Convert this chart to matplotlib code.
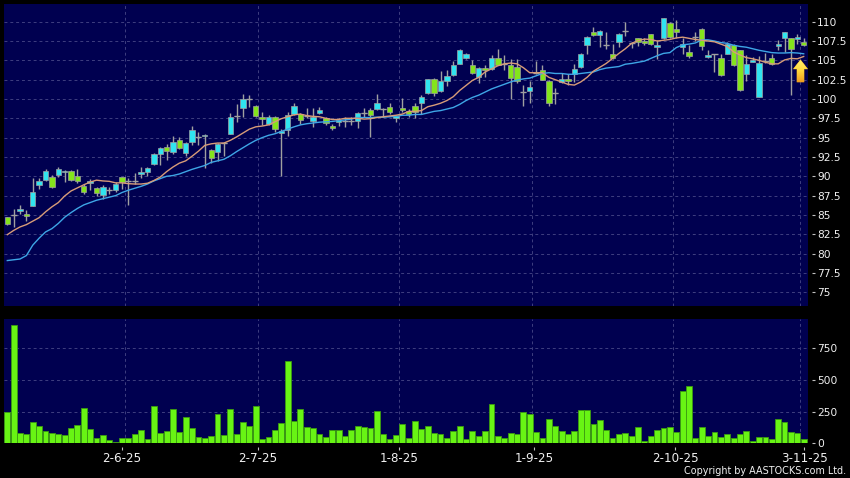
import numpy as np
import matplotlib
matplotlib.use("Agg")
import matplotlib.pyplot as plt
from matplotlib.colors import LinearSegmentedColormap

# candles
opens = [84.71, 84.97, 85.45, 85.10, 86.19, 88.84, 89.49, 89.89, 90.19, 90.50,
         90.71, 90.02, 88.75, 89.15, 88.45, 87.62, 88.23, 88.28, 89.89, 89.41,
         89.45, 90.32, 90.58, 91.58, 92.93, 93.80, 93.10, 94.71, 93.06, 94.41,
         95.06, 95.17, 93.43, 93.13, 94.35, 95.52, 97.78, 98.78, 100.04, 99.13,
         97.70, 96.83, 97.70, 95.65, 95.96, 98.04, 98.00, 97.78, 97.09, 98.13,
         97.52, 96.56, 97.00, 97.17, 97.13, 97.13, 98.22, 98.61, 98.74, 98.70,
         99.00, 97.52, 98.78, 98.41, 99.06, 99.50, 100.76, 102.62, 101.06, 102.32,
         103.10, 104.58, 105.31, 104.45, 102.88, 104.01, 103.84, 105.36, 104.58, 104.36,
         104.14, 100.89, 101.06, 103.40, 103.75, 102.36, 100.80, 102.23, 102.58, 103.19,
         104.19, 107.05, 108.70, 108.22, 107.03, 105.78, 107.42, 108.80, 107.20, 107.85,
         107.46, 108.37, 106.69, 107.85, 109.88, 109.01, 106.73, 106.04, 107.98, 109.01,
         105.48, 105.78, 105.26, 105.87, 106.99, 106.34, 103.20, 104.83, 100.31, 104.92,
         105.26, 106.82, 107.94, 107.85, 107.72, 107.33]
highs = [84.71, 85.71, 86.27, 85.62, 89.84, 89.84, 90.93, 90.19, 91.15, 90.84,
         90.84, 90.89, 88.97, 89.62, 88.62, 88.89, 88.62, 89.32, 89.97, 89.84,
         90.49, 91.15, 91.19, 93.02, 93.76, 94.19, 95.15, 95.06, 94.45, 96.45,
         95.76, 95.52, 93.56, 94.35, 94.40, 98.13, 99.35, 100.65, 100.52, 99.22,
         98.26, 97.87, 97.78, 96.17, 98.35, 99.43, 98.22, 98.78, 98.78, 99.00,
         97.70, 96.83, 97.48, 97.70, 97.70, 98.35, 98.78, 98.78, 100.61, 98.78,
         99.52, 97.91, 100.09, 98.72, 99.45, 100.58, 102.62, 102.70, 103.58, 103.71,
         104.88, 106.42, 106.00, 105.10, 104.14, 104.36, 105.75, 106.44, 105.66, 105.23,
         105.23, 101.80, 102.28, 104.88, 104.36, 102.49, 101.41, 103.40, 103.27, 104.49,
         105.90, 108.13, 109.26, 108.92, 108.71, 107.12, 108.50, 110.00, 107.42, 107.94,
         107.85, 108.40, 107.63, 110.46, 109.92, 110.22, 107.85, 106.99, 108.71, 109.23,
         106.34, 105.80, 105.78, 107.33, 107.07, 106.40, 105.70, 105.48, 105.61, 105.91,
         105.82, 107.63, 108.71, 107.94, 108.37, 107.85]
lows = [83.66, 83.45, 85.06, 84.23, 86.10, 88.41, 89.41, 88.49, 89.97, 89.32,
        89.41, 89.15, 87.71, 88.19, 87.49, 87.06, 87.75, 88.02, 88.36, 86.27,
        88.97, 89.76, 90.10, 91.49, 91.49, 92.15, 92.89, 93.58, 92.58, 94.02,
        94.10, 91.08, 91.74, 92.04, 92.69, 95.43, 97.04, 97.61, 98.91, 97.70,
        96.61, 96.61, 95.74, 90.04, 95.22, 97.91, 96.74, 97.48, 96.39, 98.00,
        96.61, 95.96, 96.48, 96.39, 96.61, 96.26, 97.70, 95.09, 98.57, 97.70,
        98.04, 97.04, 98.35, 97.63, 97.55, 98.07, 100.67, 100.45, 100.97, 101.62,
        103.01, 104.49, 105.23, 103.27, 102.06, 102.84, 103.71, 104.36, 103.71, 99.98,
        102.10, 99.15, 99.45, 103.19, 102.41, 99.06, 99.37, 102.06, 101.75, 102.19,
        104.05, 105.79, 108.13, 106.75, 106.47, 105.18, 106.77, 108.15, 106.56, 106.90,
        106.99, 106.99, 105.18, 107.76, 107.85, 107.85, 105.82, 105.35, 107.50, 106.38,
        105.35, 103.54, 102.98, 105.78, 104.27, 101.04, 102.33, 104.75, 100.22, 104.62,
        104.40, 106.34, 106.04, 100.52, 107.07, 106.90]
closes = [83.84, 84.97, 85.75, 84.80, 87.97, 89.41, 90.71, 88.67, 90.93, 90.67,
          89.54, 89.36, 87.97, 89.41, 87.84, 88.58, 88.23, 88.97, 89.28, 89.41,
          89.45, 90.58, 91.10, 92.89, 93.67, 93.24, 94.45, 93.71, 94.32, 96.02,
          95.06, 95.39, 92.34, 94.17, 94.35, 97.70, 97.78, 100.04, 100.04, 97.78,
          97.43, 97.70, 96.17, 95.87, 97.91, 99.04, 97.26, 97.78, 97.61, 98.52,
          96.87, 96.30, 97.26, 97.17, 97.13, 98.13, 98.22, 97.87, 99.43, 98.70,
          98.26, 97.74, 98.52, 98.07, 98.37, 100.28, 102.62, 100.80, 102.32, 103.01,
          104.45, 106.40, 105.88, 103.36, 103.97, 103.79, 105.31, 104.45, 104.58, 102.71,
          102.32, 100.89, 101.58, 103.40, 102.49, 99.50, 100.80, 102.58, 102.36, 103.88,
          105.88, 108.05, 108.22, 108.83, 107.03, 105.35, 108.37, 108.80, 107.20, 107.42,
          107.25, 107.07, 106.99, 110.44, 107.98, 108.67, 107.16, 105.61, 107.98, 106.82,
          105.74, 105.78, 103.07, 107.12, 104.36, 101.13, 104.49, 105.05, 104.62, 104.92,
          104.49, 107.07, 108.63, 106.51, 107.98, 107.03]

ma_short = [82.45, 83.00, 83.45, 83.75, 84.20, 84.65, 85.40, 86.05, 86.60, 87.45,
            88.10, 88.50, 88.90, 89.25, 89.50, 89.40, 89.35, 89.15, 89.15, 89.05,
            89.00, 89.00, 89.10, 89.45, 89.90, 90.60, 91.20, 91.70, 92.00, 92.60,
            93.25, 94.00, 94.20, 94.30, 94.30, 94.65, 95.10, 95.60, 96.10, 96.40,
            96.50, 96.65, 97.05, 97.45, 97.70, 97.95, 98.05, 97.85, 97.75, 97.70,
            97.50, 97.35, 97.35, 97.50, 97.50, 97.50, 97.40, 97.45, 97.60, 97.70,
            97.80, 97.90, 98.05, 98.40, 98.40, 98.50, 99.00, 99.20, 99.45, 99.80,
            100.30, 101.10, 101.75, 102.40, 102.80, 103.50, 103.90, 104.30, 104.55, 104.65,
            104.55, 104.05, 103.40, 103.40, 103.40, 102.80, 102.50, 102.20, 101.90, 101.80,
            102.20, 102.80, 103.60, 104.10, 104.60, 105.25, 105.90, 106.50, 107.20, 107.55,
            107.75, 107.70, 107.50, 107.60, 107.70, 107.90, 108.00, 107.85, 107.70, 107.60,
            107.50, 107.40, 107.10, 106.80, 106.10, 105.70, 105.35, 105.20, 105.00, 104.75,
            104.55, 104.55, 105.05, 105.25, 105.20, 105.50]
ma_long = [79.10, 79.20, 79.30, 79.75, 81.10, 82.00, 82.80, 83.23, 83.90, 84.70,
           85.30, 85.84, 86.30, 86.60, 86.90, 87.10, 87.30, 87.50, 87.90, 88.20,
           88.45, 88.70, 89.00, 89.40, 89.70, 90.00, 90.10, 90.30, 90.60, 90.90,
           91.15, 91.40, 91.80, 92.00, 92.20, 92.65, 93.20, 93.70, 94.20, 94.65,
           95.00, 95.30, 95.50, 95.80, 96.10, 96.40, 96.65, 96.80, 96.90, 97.00,
           97.05, 97.10, 97.20, 97.30, 97.40, 97.60, 97.60, 97.60, 97.65, 97.65,
           97.70, 97.75, 97.90, 97.90, 98.00, 98.00, 98.20, 98.40, 98.50, 98.70,
           98.90, 99.30, 99.80, 100.20, 100.50, 100.90, 101.30, 101.60, 101.90, 102.20,
           102.45, 102.60, 102.70, 103.00, 103.30, 103.40, 103.30, 103.30, 103.20, 103.20,
           103.30, 103.40, 103.50, 103.80, 104.00, 104.10, 104.20, 104.50, 104.60, 104.75,
           104.90, 105.25, 105.60, 105.90, 106.00, 106.65, 107.00, 107.10, 107.25, 107.65,
           107.65, 107.50, 107.30, 107.20, 106.95, 106.80, 106.70, 106.50, 106.30, 106.15,
           106.00, 105.95, 105.95, 106.00, 105.95, 105.85]

volume = [245, 934, 82, 71, 171, 137, 97, 79, 71, 63,
          118, 145, 281, 110, 42, 68, 26, 10, 39, 42,
          76, 108, 37, 297, 82, 100, 273, 87, 205, 121,
          50, 42, 55, 229, 66, 271, 74, 166, 134, 295,
          37, 50, 103, 163, 647, 176, 268, 129, 118, 76,
          53, 103, 105, 58, 103, 134, 129, 118, 258, 74,
          37, 66, 153, 45, 174, 116, 134, 79, 76, 42,
          97, 139, 34, 97, 58, 97, 308, 58, 42, 82,
          76, 245, 232, 92, 42, 195, 139, 97, 76, 100,
          263, 260, 150, 182, 103, 42, 74, 82, 55, 129,
          18, 55, 108, 121, 129, 92, 413, 450, 39, 132,
          55, 87, 53, 74, 42, 71, 95, 21, 53, 50,
          32, 189, 168, 89, 84, 37]

price_ticks = [75, 77.5, 80, 82.5, 85, 87.5, 90, 92.5, 95, 97.5, 100, 102.5, 105, 107.5, 110]
price_labels = ["75", "77.5", "80", "82.5", "85", "87.5", "90", "92.5", "95", "97.5",
                "100", "102.5", "105", "107.5", "110"]
vol_ticks = [0, 250, 500, 750]
date_ticks = [18.0, 39.3, 61.5, 82.7, 104.8, 125.1]
date_grid = [18.5, 39.4, 61.5, 82.4, 104.5, 124.5]
date_labels = ["2-6-25", "2-7-25", "1-8-25", "1-9-25", "2-10-25", "3-11-25"]

NAVY = "#000050"
GRID = "#3e3e80"
TICK = "#c0c0c0"
UP = "#30e4f0"
DOWN = "#84e41c"
WICK = "#a0a0a0"

W, H = 850, 478
x = np.arange(len(closes))
o, h, l, c = map(np.array, (opens, highs, lows, closes))

plt.rcParams["font.family"] = "DejaVu Sans"
fig = plt.figure(figsize=(W / 100, H / 100), dpi=100, facecolor="black")
ax = fig.add_axes([4 / W, 1 - 306 / H, 803.5 / W, 302 / H], facecolor=NAVY)
ax2 = fig.add_axes([4 / W, 1 - 443.3 / H, 803.5 / W, 124.3 / H], facecolor=NAVY)

for a in (ax, ax2):
    a.set_xlim(-0.52, 125.6)
    for s in a.spines.values():
        s.set_visible(False)
    a.set_axisbelow(True)
    a.set_xticks([])
    a.tick_params(axis="y", length=0, right=False, left=False, labelleft=False,
                  labelright=True, labelcolor="#f0f0f0", labelsize=7.7, pad=7)
    a.grid(axis="y", color=GRID, linestyle=(0, (3, 3)), linewidth=0.7)
    for g in date_grid:
        a.axvline(g, color=GRID, linestyle=(0, (3, 3)), linewidth=0.7, zorder=0.5)

# price panel
ylim = (73.22, 112.29)
ax.set_ylim(*ylim)
ax.set_yticks(price_ticks)
ax.set_yticklabels(price_labels)

ax.vlines(x, l, h, color=WICK, linewidth=1, zorder=2)
body = np.abs(c - o)
bottom = np.minimum(o, c)
colors = [UP if b > a else DOWN for a, b in zip(opens, closes)]
ax.bar(x, body, bottom=bottom, width=0.84, color=colors, edgecolor=WICK,
       linewidth=0.5, zorder=3)
flat = body == 0
ax.hlines(c[flat], x[flat] - 0.48, x[flat] + 0.48, color=WICK, linewidth=1, zorder=3)

ax.plot(x, ma_long, color="#3ea6e6", linewidth=1, zorder=4)
ax.plot(x, ma_short, color="#d89c78", linewidth=1, zorder=5)

# yellow arrow on the last bar, filled with a top to bottom gradient
ann = ax.annotate("", xy=(124.5, 105.05), xytext=(124.5, 102.2),
                  arrowprops=dict(arrowstyle="simple,head_length=0.46,head_width=0.72,tail_width=0.36",
                                  facecolor="#ffd83c", edgecolor="#e8a020", linewidth=0.5,
                                  shrinkA=0, shrinkB=0, mutation_scale=14),
                  zorder=6)
fig.canvas.draw()
cmap = LinearSegmentedColormap.from_list("arrow", ["#fff070", "#ffd83c", "#f0a020"])
grad = ax.imshow(np.linspace(0, 1, 32).reshape(-1, 1), extent=(123, 126, 102.2, 105.05),
                 cmap=cmap, aspect="auto", origin="upper", zorder=7)
grad.set_clip_path(ann.arrow_patch.get_path(), ann.arrow_patch.get_transform())
ax.set_xlim(-0.52, 125.6)
ax.set_ylim(*ylim)

# volume panel
ax2.set_ylim(0, 981)
ax2.set_yticks(vol_ticks)
ax2.bar(x, volume, width=0.92, color="#68f414", edgecolor="#3c9c10", linewidth=0.6, zorder=3)

# small ticks stand off from the panels on the black margin
for a, ticks in ((ax, price_ticks), (ax2, vol_ticks)):
    tr = a.get_yaxis_transform()
    for t in ticks:
        a.plot([1.0055, 1.0095], [t, t], transform=tr, color=TICK, linewidth=0.8,
               clip_on=False, solid_capstyle="butt")

tr = ax2.get_xaxis_transform()
for t, lab in zip(date_ticks, date_labels):
    ax2.plot([t, t], [-0.03, -0.05], transform=tr, color=TICK, linewidth=0.8,
             clip_on=False, solid_capstyle="butt")
    ax2.text(t, -0.12, lab, transform=tr, color="#f0f0f0", fontsize=8.6,
             ha="center", va="center", clip_on=False)

fig.text(846 / W, 1 - 471 / H, "Copyright by AASTOCKS.com Ltd.", color="#f0f0f0",
         fontsize=6.9, ha="right", va="center")

fig.savefig("out.png", dpi=100, facecolor="black")
